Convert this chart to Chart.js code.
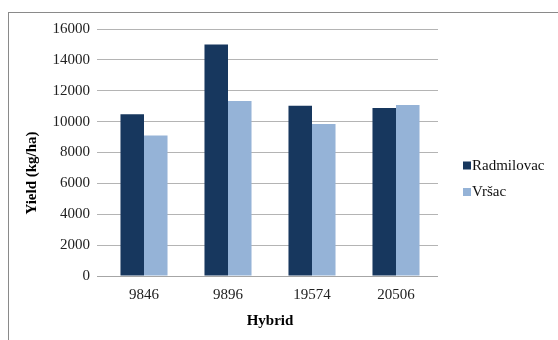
<!DOCTYPE html>
<html>
<head>
<meta charset="utf-8">
<script src="https://cdn.jsdelivr.net/npm/chart.js@4"></script>
<style>
  html, body { margin: 0; padding: 0; background: #ffffff; }
  #wrap { width: 558px; height: 340px; position: relative; }
</style>
</head>
<body>
<div id="wrap"><canvas id="c" width="558" height="340"></canvas></div>
<script>
// Hybrids on the category axis
const hybrids = ['9846', '9896', '19574', '20506'];
// Yield per location, kg/ha
const radmilovac = [10480, 15000, 11030, 10880];
const vrsac = [9100, 11340, 9840, 11080];
// Location names for the legend
const locations = ['Radmilovac', 'Vršac'];
// Value axis tick labels
const yTicks = [0, 2000, 4000, 6000, 8000, 10000, 12000, 14000, 16000];

const serif = '"Liberation Serif", "Times New Roman", serif';
const darkBlue = '#17375e';
const lightBlue = '#95b3d7';

// Outer frame, axis title and legend drawn around the plot
const decor = {
  id: 'decor',
  beforeDraw(chart) {
    const ctx = chart.ctx;
    ctx.save();
    ctx.fillStyle = '#ffffff';
    ctx.fillRect(0, 0, chart.width, chart.height);
    ctx.strokeStyle = '#8a8a8a';
    ctx.lineWidth = 1;
    ctx.strokeRect(8.5, 12.5, 600, 400);
    ctx.restore();
  },
  afterDraw(chart) {
    const ctx = chart.ctx;
    ctx.save();
    // vertical axis title
    ctx.translate(32, 173);
    ctx.rotate(-Math.PI / 2);
    ctx.font = 'bold 15px ' + serif;
    ctx.fillStyle = '#000000';
    ctx.textAlign = 'center';
    ctx.textBaseline = 'middle';
    ctx.fillText('Yield (kg/ha)', 0, 0);
    ctx.restore();

    // legend
    ctx.save();
    ctx.font = '15px ' + serif;
    ctx.textBaseline = 'middle';
    chart.data.datasets.forEach((ds, i) => {
      const y = 165.5 + i * 26.5;
      ctx.fillStyle = ds.backgroundColor;
      ctx.fillRect(463, y - 4, 8, 8);
      ctx.fillStyle = '#111111';
      ctx.textAlign = 'left';
      ctx.fillText(ds.label, 472, y + 0.5);
    });
    ctx.restore();
  }
};

new Chart(document.getElementById('c'), {
  type: 'bar',
  data: {
    labels: hybrids,
    datasets: [
      { label: locations[0], data: radmilovac, backgroundColor: darkBlue, borderWidth: 0 },
      { label: locations[1], data: vrsac, backgroundColor: lightBlue, borderWidth: 0 }
    ]
  },
  options: {
    responsive: false,
    animation: false,
    devicePixelRatio: 1,
    layout: { padding: { top: 29, right: 120, left: 0, bottom: 0 } },
    plugins: {
      legend: { display: false },
      tooltip: { enabled: false }
    },
    datasets: { bar: { categoryPercentage: 0.56, barPercentage: 1 } },
    scales: {
      x: {
        grid: { display: false, drawTicks: false },
        border: { display: false },
        ticks: { color: '#222222', font: { family: serif, size: 15 }, padding: 10 },
        title: {
          display: true, text: 'Hybrid', color: '#000000',
          font: { family: serif, size: 15, weight: 'bold' },
          padding: { top: 0, bottom: 10 }
        },
        afterFit(scale) { scale.height = 64; }
      },
      y: {
        min: 0, max: 16000,
        afterBuildTicks(scale) { scale.ticks = yTicks.map(v => ({ value: v })); },
        grid: {
          color: (c) => c.tick && c.tick.value === 0 ? '#a6a6a6' : '#b4b4b4',
          lineWidth: 1, drawTicks: true, tickLength: 5
        },
        border: { display: false },
        ticks: {
          color: '#222222', font: { family: serif, size: 15 }, padding: 7,
          callback: (v) => String(v)
        },
        afterFit(scale) { scale.width = 102; }
      }
    }
  },
  plugins: [decor]
});
</script>
</body>
</html>
